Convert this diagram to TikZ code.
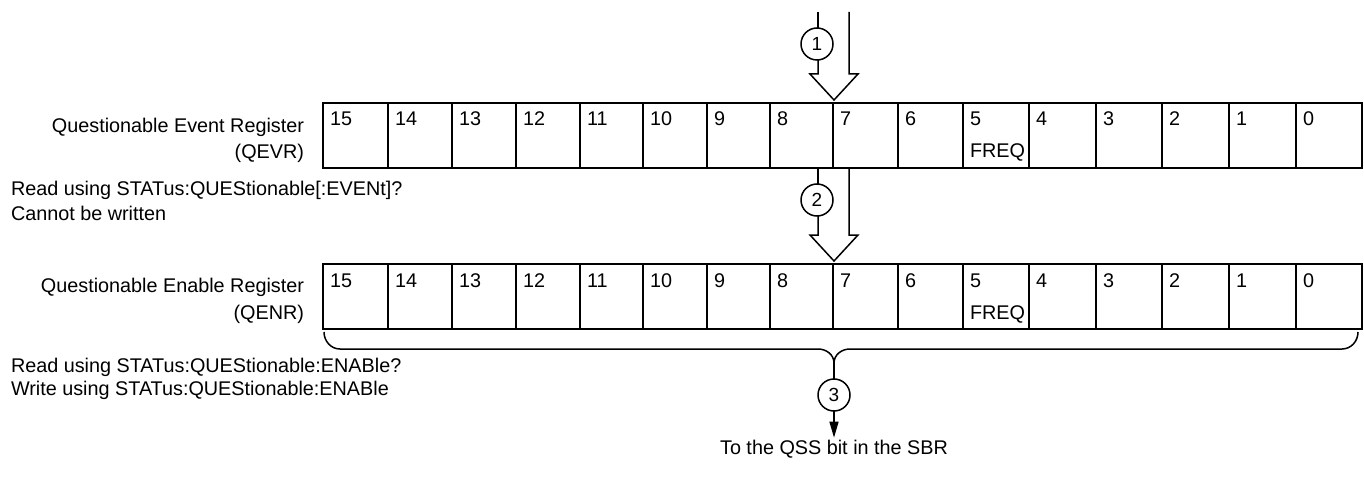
\documentclass[tikz,border=0pt]{standalone}
\usepackage{fontspec}
\setmainfont{Liberation Sans}
\usetikzlibrary{arrows.meta,calc}
\begin{document}
\begin{tikzpicture}[x=1pt,y=-1pt,
  every node/.style={inner sep=0pt,outer sep=0pt,font=\fontsize{19.8}{24}\selectfont},
  cellbox/.style={draw,line width=1.5pt,minimum height=65pt,anchor=north west},
  num/.style={anchor=base west},
  callout/.style={draw,circle,line width=1.5pt,minimum size=32pt,font=\fontsize{19}{20}\selectfont},
  ln/.style={line width=1.5pt},
  lbl/.style={anchor=base east},
  txt/.style={anchor=base west}
]
\useasboundingbox (0,0) rectangle (1364,481);

% registers
\foreach \b/\l/\r in {15/323/388,14/388/452,13/452/516,12/516/580,11/580/643,10/643/707,9/707/770,8/770/833,7/833/898,6/898/963,5/963/1029,4/1029/1096,3/1096/1162,2/1162/1229,1/1229/1296,0/1296/1362}{
  \pgfmathsetmacro\w{\r-\l}
  \node[cellbox,minimum width=\w pt] (qevr\b) at (\l,103) {};
  \node[num] (qevrn\b) at ($(qevr\b.north west)+(7,23)$) {\b};
  \node[cellbox,minimum width=\w pt] (qenr\b) at (\l,264) {};
  \node[num] (qenrn\b) at ($(qenr\b.north west)+(7,23)$) {\b};
}
\node[num] (qevrf) at ($(qevr5.north west)+(7,55)$) {FREQ};
\node[num] (qenrf) at ($(qenr5.north west)+(7,55)$) {FREQ};

% left labels
\node[lbl] (l1a) at (304,133) {Questionable Event Register};
\node[lbl] (l1b) at (304,159) {(QEVR)};
\node[txt] (l1c) at (11,196) {Read using STATus:QUEStionable[:EVENt]?};
\node[txt] (l1d) at (11,220) {Cannot be written};
\node[lbl] (l2a) at (304,292) {Questionable Enable Register};
\node[lbl] (l2b) at (304,319) {(QENR)};
\node[txt] (l2c) at (11,372) {Read using STATus:QUEStionable:ENABle?};
\node[txt] (l2d) at (11,395) {Write using STATus:QUEStionable:ENABle};

% arrow 1
\node[callout] (c1) at (817,44) {1};
\coordinate (a1l) at (818,12);
\coordinate (a1r) at (849,12);
\coordinate (a1t) at (834,100);
\draw[ln] (a1l) -- (a1l |- c1.north);
\draw[ln,line join=miter] (a1l |- c1.south) -- (818,74) -- (810,74) -- (a1t) -- (858,74) -- (849,74) -- (a1r);

% arrow 2
\node[callout] (c2) at (817,200) {2};
\coordinate (a2l) at (818,168);
\coordinate (a2r) at (849,168);
\coordinate (a2t) at (834,261);
\draw[ln] (a2l) -- (a2l |- c2.north);
\draw[ln,line join=miter] (a2l |- c2.south) -- (818,235) -- (810,235) -- (a2t) -- (858,235) -- (849,235) -- (a2r);

% brace and output
\coordinate (bl) at (324,332);
\coordinate (br) at (1358,332);
\coordinate (bm) at (834,363);
\draw[ln] (bl) to[out=-90,in=180] (340,349) -- (818,349) to[out=0,in=90] (bm)
          to[out=90,in=180] (850,349) -- (1342,349) to[out=0,in=-90] (br);
\node[callout] (c3) at (834,395) {3};
\draw[ln] (bm) -- (c3);
\node[anchor=base] (qss) at (834,454) {To the QSS bit in the SBR};
\draw[ln,-{Triangle[length=16pt,width=9pt]}] (c3) -- ([yshift=2pt]qss.north);
\end{tikzpicture}
\end{document}
